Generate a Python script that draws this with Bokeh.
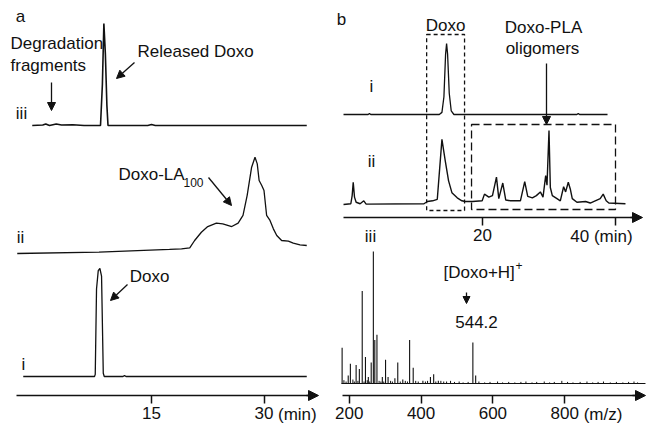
from bokeh.plotting import figure
from bokeh.layouts import row
from bokeh.models import (Range1d, FixedTicker, Label, Arrow, NormalHead, BoxAnnotation,
                          LinearAxis)
from bokeh.embed import file_html
from bokeh.resources import INLINE

FONT = "Liberation Sans"
INK = "#111111"

# ---------------- data ----------------
# Panel a: HPLC traces, retention time (min) and relative intensity (% of trace max)
A_I_T = [-2.1, 7.4, 7.5, 7.67, 7.9, 8.12, 8.34, 8.57, 8.7, 11.2, 11.4, 11.6, 35.7]
A_I_Y = [0, 0, 2, 81, 98, 100, 93, 3, 0, 0, 1, 0, 0]

A_II_T = [-2.9, 8.0, 17.4, 19.0, 20.1, 20.75, 21.65, 22.5, 23.65, 24.5, 25.7, 26.55, 27.2,
          27.75, 28.35, 28.8, 29.1, 29.35, 29.7, 30.0, 30.35, 30.8, 31.25, 31.7, 32.35,
          33.25, 33.9, 34.8, 35.7]
A_II_Y = [0, 1.4, 4.2, 4.9, 5.9, 13.5, 22.1, 28, 31.5, 30.8, 28, 31.5, 39.5,
          60.2, 89.6, 100, 93.1, 75.8, 70.6, 65.4, 39.5, 34.3, 25.6, 18.7, 13.5,
          12.8, 10.7, 9.0, 8.3]

A_III_T = [-0.9, 0.5, 0.9, 1.4, 2.3, 3.0, 4.5, 6.0, 8.2, 8.45, 8.65, 8.85, 9.05, 9.2,
           14.5, 15.0, 15.5, 35.7]
A_III_Y = [0, 0.5, 1.5, 0, 1.5, 0.5, 0.8, 0, 0, 40, 100, 70, 20, 0, 0, 1, 0, 0]

A_TICKS = [15, 30]

# Panel b (top): HPLC traces
B_I_T = [-0.9, 2.8, 3.0, 3.2, 13.5, 13.9, 14.2, 14.45, 14.6, 14.75, 15.0, 15.3, 15.7,
         34.2, 34.4, 34.6, 38.8]
B_I_Y = [0, 0, 1.5, 0, 0, 3, 25, 85, 100, 85, 30, 5, 0, 0, 1.5, 0, 0]

B_II_T = [-0.9, 0.2, 0.4, 0.56, 0.75, 1.0, 1.6, 2.15, 2.5,
          11.2, 11.7, 12.5, 13.2, 13.9, 14.4, 14.9, 15.4, 16.2, 16.9, 17.4,
          18.5, 19.95, 20.3, 20.95, 21.5, 22.1, 22.45, 23.05, 23.5, 24.2,
          25.7, 26.35, 26.8, 27.5, 28.1, 28.7, 29.1, 29.5, 29.7, 30.0,
          30.2, 30.5, 31.2, 31.7, 32.2, 32.5, 32.9, 33.2, 33.5, 34.2,
          35.5, 36.2, 37.7, 38.15, 38.6, 39.0, 41.5]
B_II_Y = [0, 1, 12, 30, 10, 3, 1, 5, 0.5,
          1, 4, 5, 7, 88, 59, 32, 16, 9, 5, 4,
          4, 5, 14, 10, 12, 37, 8, 29, 6, 5,
          5, 31, 11, 9, 12, 17, 10, 39, 26, 100,
          23, 12, 8, 5, 24, 17, 30, 21, 8, 3,
          4, 2, 8, 14, 5, 2, 1]

B_TICKS = [20, 40]
DOXO_WINDOW = [11.6, 17.3]      # min
OLIGO_WINDOW = [18.35, 40.0]    # min

# Panel b (bottom): mass spectrum, m/z and relative intensity (%)
MZ = [180, 197, 203, 219, 228, 236, 245, 253, 261, 267, 271, 277, 292, 301, 308,
      327, 335, 349, 368, 378, 405, 426, 435, 448, 544.2, 552]
MZ_INT = [27, 6, 15, 14, 11, 70, 20, 5, 16, 100, 33, 37, 5, 18, 5,
          4, 16, 3, 33, 12, 2, 5, 7, 2, 31, 6]
NOISE_MZ = [185, 191, 210, 214, 224, 241, 250, 257, 283, 288, 296, 315, 320, 342, 356,
            362, 385, 392, 412, 418, 441, 455, 463, 471, 482, 493, 506, 517, 531, 561,
            577, 592, 613, 627, 644, 661, 678, 692, 709, 722, 743, 758, 771, 792, 808,
            823, 843, 862, 878, 893, 908, 927, 944, 962, 978, 993, 1003]
NOISE_INT = [2.5, 1.5, 3, 1.5, 2, 1.5, 2.5, 1.5, 2, 1.5, 1.5, 2, 1.5, 1.5, 2,
             1.5, 2, 1.5, 1.5, 2, 1.5, 2, 1.5, 1.5, 2, 1.2, 1.5, 0.8, 1.2, 1.5,
             0.8, 1.2, 1.5, 0.8, 1.2, 0.8, 1.2, 1.5, 0.8, 1.2, 1.5, 0.8, 1.2, 2, 1.2,
             0.8, 1.2, 1.5, 0.8, 1.2, 1.5, 0.8, 1.2, 0.8, 1.2, 1.5, 0.8]
MZ_SPAN = [178, 1025]
M_TICKS = [200, 400, 600, 800]

# ---------------- geometry helpers (picture px -> data) ----------------
H = 424
A_PX0, A_PXPM = 38.5, 7.5       # panel a: px of t=0, px per min
B_PX0, B_PXPM = 349.0, 6.65     # panel b top
M_PX0, M_PXPU = 277.0, 0.359    # panel b bottom (m/z)

def ax_a(px): return (px - A_PX0) / A_PXPM
def ax_b(px): return (px - B_PX0) / B_PXPM
def ax_m(px): return (px - M_PX0) / M_PXPU
def ay(py): return H - py

def stack(base, scale, vals):
    return [base + scale * v / 100.0 for v in vals]

def new_fig(w, xr):
    p = figure(width=w, height=H, x_range=Range1d(*xr), y_range=Range1d(0, H),
               output_backend="svg", toolbar_location=None, tools="",
               x_axis_location=None, y_axis_location=None,
               min_border_left=0, min_border_right=0, min_border_top=0, min_border_bottom=0)
    p.grid.visible = False
    p.outline_line_color = None
    p.background_fill_color = "white"
    p.border_fill_color = "white"
    return p

def add_axis(p, ticks, loc_py, bounds, range_name="default", overrides=None):
    ax = LinearAxis(ticker=FixedTicker(ticks=ticks), fixed_location=ay(loc_py),
                    bounds=bounds, x_range_name=range_name)
    ax.minor_tick_line_color = None
    ax.major_tick_in = 0
    ax.major_tick_out = 8
    ax.major_label_standoff = 3
    ax.major_label_text_font = FONT
    ax.major_label_text_font_size = "17px"
    ax.major_label_text_color = INK
    ax.axis_line_color = INK
    ax.axis_line_width = 1.5
    ax.major_tick_line_color = INK
    ax.major_tick_line_width = 1.5
    if overrides:
        ax.major_label_overrides = overrides
    p.add_layout(ax, "below")
    return ax

def lab(p, x, y, text, size="17px", align="left", x_offset=0, baseline="middle",
        rn="default"):
    p.add_layout(Label(x=x, y=y, text=text, text_font=FONT, text_font_size=size,
                       text_color=INK, text_align=align, text_baseline=baseline,
                       x_offset=x_offset, x_range_name=rn))

def arr(p, x0, y0, x1, y1, size=8, lw=1.3, rn="default"):
    p.add_layout(Arrow(end=NormalHead(size=size, fill_color=INK, line_color=INK, line_width=1),
                       x_start=x0, y_start=y0, x_end=x1, y_end=y1,
                       line_color=INK, line_width=lw, x_range_name=rn))

# ---------------- panel a ----------------
pa = new_fig(330, (ax_a(0), ax_a(330)))
add_axis(pa, A_TICKS, 395, (ax_a(16), ax_a(310)))
arr(pa, ax_a(306), ay(395), ax_a(318), ay(395), size=10)

pa.line(A_I_T, stack(ay(376), 108, A_I_Y), line_color=INK, line_width=1.3)
pa.line(A_II_T, stack(ay(253), 96.3, A_II_Y), line_color=INK, line_width=1.3)
pa.line(A_III_T, stack(ay(125), 102, A_III_Y), line_color=INK, line_width=1.6)

lab(pa, ax_a(20), ay(16), "a", align="center")
lab(pa, ax_a(10), ay(43), "Degradation")
lab(pa, ax_a(10), ay(65), "fragments")
arr(pa, ax_a(51), ay(82), ax_a(51), ay(110))
lab(pa, ax_a(137), ay(51), "Released Doxo")
arr(pa, ax_a(134), ay(62), ax_a(116), ay(78))
lab(pa, ax_a(21), ay(113), "iii", align="center")
lab(pa, ax_a(20), ay(237), "ii", align="center")
lab(pa, ax_a(23), ay(364), "i", align="center")
lab(pa, ax_a(118), ay(174), "Doxo-LA")
lab(pa, ax_a(183), ay(182), "100", size="12px")
arr(pa, ax_a(208), ay(177), ax_a(231), ay(205))
lab(pa, ax_a(149), ay(276), "Doxo", align="center")
arr(pa, ax_a(127), ay(284), ax_a(110), ay(300))
lab(pa, 30, ay(404), "(min)", x_offset=14, baseline="top")

# ---------------- panel b (chromatograms + spectrum in one frame) ----------------
pb = new_fig(317, (ax_m(330), ax_m(647)))
pb.extra_x_ranges = {"time": Range1d(ax_b(330), ax_b(647))}
T = "time"

# time axis (top half)
add_axis(pb, B_TICKS, 217, (ax_b(343), ax_b(632)), range_name=T, overrides={40: ""})
arr(pb, ax_b(630), ay(217), ax_b(642), ay(217), size=10, rn=T)
lab(pb, 40, ay(226), "40 (min)", align="center", x_offset=-14, baseline="top", rn=T)

pb.line(B_I_T, stack(ay(114), 71, B_I_Y), line_color=INK, line_width=1.3, x_range_name=T)
pb.line(B_II_T, stack(ay(204), 74, B_II_Y), line_color=INK, line_width=1.4, x_range_name=T)

pb.add_layout(BoxAnnotation(left=DOXO_WINDOW[0], right=DOXO_WINDOW[1],
                            bottom=ay(210), top=ay(34), fill_alpha=0,
                            line_color=INK, line_alpha=1, line_width=1.3, line_dash="4 3",
                            x_range_name=T))
pb.add_layout(BoxAnnotation(left=OLIGO_WINDOW[0], right=OLIGO_WINDOW[1],
                            bottom=ay(209), top=ay(124), fill_alpha=0,
                            line_color=INK, line_alpha=1, line_width=1.3, line_dash="8 4",
                            x_range_name=T))

lab(pb, ax_b(341), ay(19), "b", align="center", rn=T)
lab(pb, ax_b(445), ay(25), "Doxo", align="center", rn=T)
lab(pb, ax_b(543), ay(27), "Doxo-PLA", align="center", rn=T)
lab(pb, ax_b(542), ay(48), "oligomers", align="center", rn=T)
arr(pb, ax_b(546), ay(63), ax_b(546), ay(124), rn=T)
lab(pb, ax_b(371), ay(86), "i", align="center", rn=T)
lab(pb, ax_b(371), ay(161), "ii", align="center", rn=T)
lab(pb, ax_b(370), ay(236), "iii", align="center", rn=T)

# m/z axis (bottom half)
add_axis(pb, M_TICKS, 395, (ax_m(342), ax_m(636)))
arr(pb, ax_m(632), ay(395), ax_m(645), ay(395), size=10)

m_base = ay(383)
pb.line(MZ_SPAN, [m_base, m_base], line_color=INK, line_width=1.2)
pb.segment(x0=NOISE_MZ, y0=[m_base] * len(NOISE_MZ), x1=NOISE_MZ,
           y1=stack(m_base, 132, NOISE_INT), line_color=INK, line_width=1)
pb.segment(x0=MZ, y0=[m_base] * len(MZ), x1=MZ,
           y1=stack(m_base, 132, MZ_INT), line_color=INK, line_width=1.1)

lab(pb, ax_m(443), ay(272), "[Doxo+H]")
lab(pb, ax_m(515), ay(265), "+", size="12px")
arr(pb, ax_m(466), ay(292), ax_m(466), ay(303), size=7)
lab(pb, ax_m(476), ay(321), "544.2", align="center")
lab(pb, 800, ay(404), "(m/z)", x_offset=19, baseline="top")

layout = row(pa, pb)

with open("out.html", "w") as f:
    f.write(file_html(layout, INLINE))
